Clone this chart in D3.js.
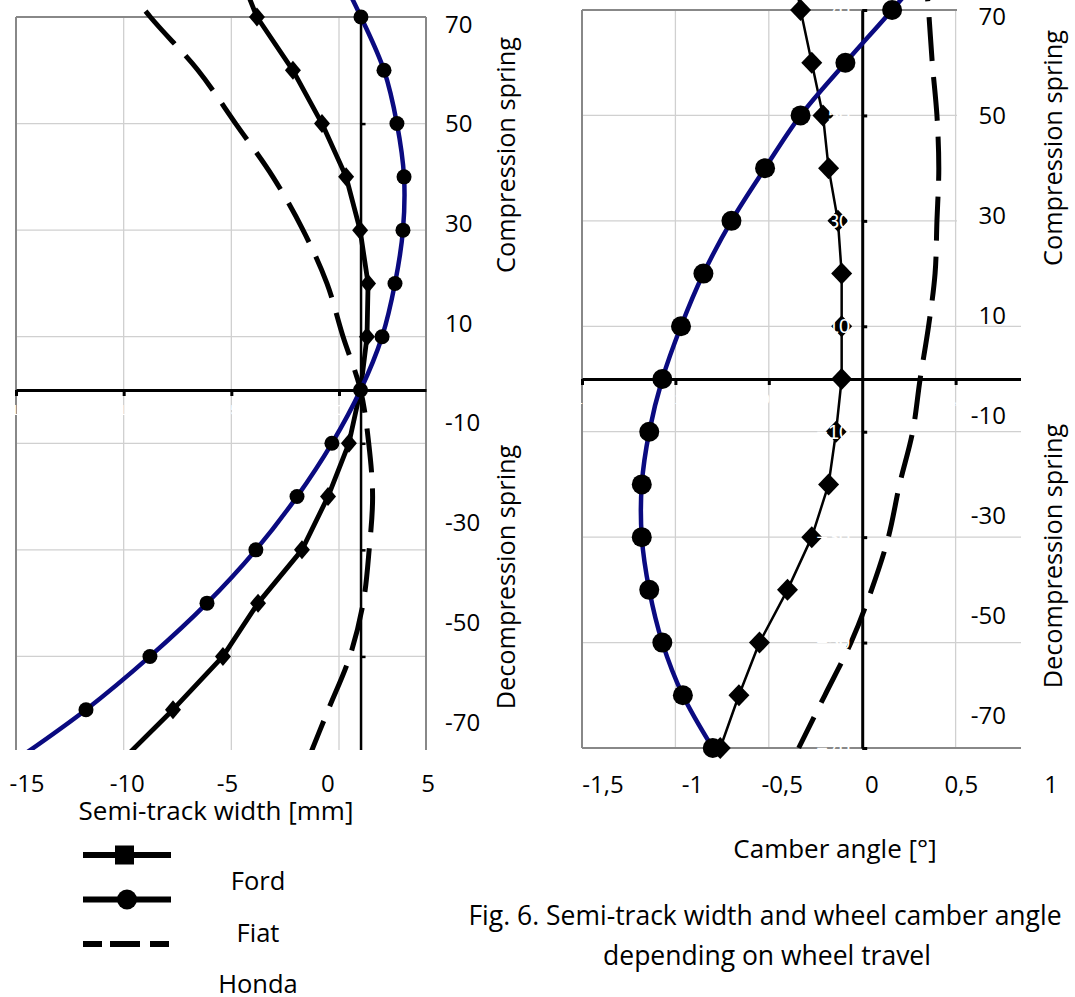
<!DOCTYPE html>
<html lang="en">
<head>
<meta charset="UTF-8">
<title>Semi-track width and camber angle</title>
<script src="https://cdn.jsdelivr.net/npm/d3@7"></script>
<style>
  body { margin: 0; background: #fff; }
  svg { font-family: "Open Sans", sans-serif; }
</style>
</head>
<body>
<svg id="chart" width="1075" height="997"></svg>
<script>
    // wheel travel [mm], one entry per measured point
    var travel = [80, 70, 60, 50, 40, 30, 20, 10, 0, -10, -20, -30, -40, -50, -60, -70];

    // semi-track width change [mm]
    var fordTrack  = [-4.8, -3.81, -2.14, -0.79, 0.33, 0.98, 1.35, 1.30, 1.0, 0.46, -0.51, -1.72, -3.76, -5.39, -7.71, -10.2];
    var fiatTrack  = [-0.2, 1.02, 2.09, 2.69, 3.02, 2.97, 2.60, 2.0, 1.0, -0.33, -1.95, -3.86, -6.13, -8.78, -11.75, -15.2];
    var hondaTrack = [-10.7, -8.76, -6.55, -4.8, -3.07, -1.67, -0.56, 0.19, 1.0, 1.38, 1.56, 1.4, 1.12, 0.5, -0.5, -1.5];

    // camber angle [deg]
    var fordCamber  = [-0.38, -0.33, -0.27, -0.21, -0.18, -0.13, -0.11, -0.11, -0.11, -0.14, -0.18, -0.27, -0.40, -0.55, -0.66, -0.76];
    var fiatCamber  = [0.40, 0.16, -0.09, -0.33, -0.52, -0.70, -0.85, -0.97, -1.07, -1.14, -1.18, -1.18, -1.14, -1.07, -0.96, -0.80];
    var hondaCamber = [0.33, 0.355, 0.375, 0.40, 0.41, 0.40, 0.39, 0.355, 0.31, 0.27, 0.20, 0.14, 0.05, -0.06, -0.20, -0.34];

    var travelTicks = [70, 50, 30, 10, -10, -30, -50, -70];
    var trackTicks = [-15, -10, -5, 0];
    var trackLabels = [-15, -10, -5, 0, 5];
    var camberTicks = [-1.5, -1, -0.5, 0.5];
    var camberLabels = [-1.5, -1, -0.5, 0, 0.5, 1];
    var legendNames = ["Ford", "Fiat", "Honda"];

    var svg = d3.select("#chart");
    var BLUE = "#0a0a80";
    var GRID = "#d0d0d0";
    var FRAME = "#888";

    function rows(vals) {
        return travel.map(function (t, i) { return {t: t, v: vals[i]}; });
    }

    function diamond(w, h) {
        return "M0," + (-h) + "L" + w + ",0L0," + h + "L" + (-w) + ",0Z";
    }

    function comma(d) { return String(d).replace(".", ","); }

    /* one panel: frame, grid, axes, three series */
    function panel(p) {
        var x = p.x, y = p.y;
        var xl = x.range()[0], xr = x.range()[1];
        var yt = y.range()[1], yb = y.range()[0];

        svg.append("defs").append("clipPath").attr("id", p.id)
            .append("rect").attr("x", p.clip[0]).attr("y", p.clip[1])
            .attr("width", p.clip[2]).attr("height", p.clip[3]);

        var g = svg.append("g").attr("clip-path", "url(#" + p.id + ")");

        // gridlines
        g.selectAll(".gx").data(p.gridX).enter().append("line")
            .attr("x1", function (d) { return x(d); }).attr("x2", function (d) { return x(d); })
            .attr("y1", yt).attr("y2", yb)
            .style("stroke", GRID).style("stroke-width", 1.3);
        g.selectAll(".gy").data(travelTicks).enter().append("line")
            .attr("x1", xl).attr("x2", xr)
            .attr("y1", function (d) { return y(d); }).attr("y2", function (d) { return y(d); })
            .style("stroke", GRID).style("stroke-width", 1.3);

        // frame
        var fr = [[xl, yt, xr, yt], [xl, yt, xl, yb], [xl, yb, xr, yb]];
        if (p.rightFrame) fr.push([xr, yt, xr, yb]);
        g.selectAll(".fr").data(fr).enter().append("line")
            .attr("x1", function (d) { return d[0]; }).attr("y1", function (d) { return d[1]; })
            .attr("x2", function (d) { return d[2]; }).attr("y2", function (d) { return d[3]; })
            .style("stroke", FRAME).style("stroke-width", 2);

        // axes
        var ax = g.append("g").attr("transform", "translate(0," + y(0) + ")")
            .call(d3.axisBottom(x).tickValues(p.tickX).tickSize(6).tickSizeOuter(0).tickFormat(""));
        ax.selectAll("path,line").style("stroke", "#000").style("stroke-width", 3);

        var ay = g.append("g").attr("transform", "translate(" + x(p.axisAt) + ",0)")
            .call(d3.axisRight(y).tickValues(travelTicks).tickSize(5).tickSizeOuter(0).tickFormat(""));
        ay.selectAll("path,line").style("stroke", "#000").style("stroke-width", p.vAxisW);

        // excel's own labels were set in white; they only show over the lines
        var wx = g.append("g").attr("transform", "translate(0," + y(0) + ")")
            .call(d3.axisBottom(x).tickValues(p.tickX).tickSize(0).tickPadding(14).tickFormat(p.fmt));
        wx.select(".domain").remove();
        wx.selectAll("text").style("fill", "#fff").style("font-size", "15px");

        // series
        var line = d3.line()
            .x(function (d) { return x(d.v); })
            .y(function (d) { return y(d.t); });

        var s = g.append("g");
        s.append("path").datum(rows(p.ford))
            .attr("d", line.curve(d3.curveLinear))
            .style("fill", "none").style("stroke", "#000").style("stroke-width", p.fordW)
            .style("stroke-linejoin", "round");
        s.selectAll(".dm").data(rows(p.ford)).enter().append("path")
            .attr("transform", function (d) { return "translate(" + x(d.v) + "," + y(d.t) + ")"; })
            .attr("d", diamond(p.dm[0], p.dm[1]))
            .style("fill", "#000");

        s.append("path").datum(rows(p.fiat))
            .attr("d", line.curve(d3.curveCatmullRom))
            .style("fill", "none").style("stroke", BLUE).style("stroke-width", 4.5);
        s.selectAll(".ci").data(rows(p.fiat)).enter().append("circle")
            .attr("cx", function (d) { return x(d.v); })
            .attr("cy", function (d) { return y(d.t); })
            .attr("r", p.r)
            .style("fill", "#000");

        s.append("path").datum(rows(p.honda))
            .attr("d", line.curve(d3.curveCatmullRom))
            .style("fill", "none").style("stroke", "#000").style("stroke-width", 5)
            .style("stroke-dasharray", "44,16");

        return g;
    }

    // ---- left: semi-track width ----
    var xL = d3.scaleLinear().domain([-15, 4.04]).range([16, 426]);
    var yL = d3.scaleLinear().domain([-70, 70]).range([763, 17]);
    panel({
        id: "clipL", x: xL, y: yL, clip: [0, 0, 440, 750],
        gridX: trackTicks, tickX: trackTicks, axisAt: 1, rightFrame: true,
        vAxisW: 2.5, fordW: 4.8, dm: [8, 9.5], r: 7.5,
        fmt: function (d) { return d; },
        ford: fordTrack, fiat: fiatTrack, honda: hondaTrack
    });

    // ---- right: camber angle ----
    var xR = d3.scaleLinear().domain([-1.5, 0.85]).range([582, 1021]);
    var yR = d3.scaleLinear().domain([-70, 70]).range([748, 10]);
    var gR = panel({
        id: "clipR", x: xR, y: yR, clip: [570, 0, 451, 997],
        gridX: [-1, -0.5, 0.5], tickX: camberTicks, axisAt: 0, rightFrame: false,
        vAxisW: 3, fordW: 2.5, dm: [10.5, 11], r: 10,
        fmt: comma,
        ford: fordCamber, fiat: fiatCamber, honda: hondaCamber
    });
    var wy = gR.append("g").attr("transform", "translate(" + xR(0) + ",0)")
        .call(d3.axisLeft(yR).tickValues(travelTicks).tickSize(0).tickPadding(12));
    wy.select(".domain").remove();
    wy.selectAll("text").style("fill", "#fff").style("font-size", "20px");

    // white text box behind the upper camber labels
    svg.append("rect").attr("x", 957).attr("y", 0).attr("width", 70).attr("height", 318)
        .style("fill", "#fff");

    // ---- hand-placed labels (text boxes in the original) ----
    var T = svg.append("g").style("font-size", "24px").style("fill", "#000");

    var lxL = d3.scaleLinear().domain([-15, 5]).range([27, 428]);
    T.selectAll(".lx").data(trackLabels).enter().append("text")
        .attr("x", function (d) { return lxL(d); }).attr("y", 792)
        .attr("text-anchor", "middle").text(function (d) { return d; });

    var lxR = d3.scaleLinear().domain([-1.5, 1]).range([603, 1051]);
    T.selectAll(".rx").data(camberLabels).enter().append("text")
        .attr("x", function (d) { return lxR(d); }).attr("y", 793)
        .attr("text-anchor", "middle").text(comma);

    var lyL = d3.scaleLinear().domain([70, -70]).range([24, 722]);
    T.selectAll(".ly").data(travelTicks).enter().append("text")
        .attr("x", 445).attr("y", function (d) { return lyL(d) + 8.5; })
        .text(function (d) { return d; });

    var lyR = d3.scaleLinear().domain([70, -70]).range([16, 715]);
    T.selectAll(".ry").data(travelTicks).enter().append("text")
        .attr("x", 1006).attr("y", function (d) { return lyR(d) + 8.5; })
        .attr("text-anchor", "end").text(function (d) { return d; });

    function vtext(x, y, s) {
        T.append("text").attr("transform", "translate(" + x + "," + y + ") rotate(-90)")
            .attr("text-anchor", "middle").style("font-size", "25.3px").text(s);
    }
    vtext(515, 155, "Compression spring");
    vtext(515, 577, "Decompression spring");
    vtext(1062, 148, "Compression spring");
    vtext(1062, 556, "Decompression spring");

    function htext(x, y, s, size) {
        T.append("text").attr("x", x).attr("y", y).attr("text-anchor", "middle")
            .style("font-size", size).text(s);
    }
    htext(216, 820, "Semi-track width [mm]", "26px");
    htext(835, 858, "Camber angle [°]", "26px");
    htext(765, 925, "Fig. 6. Semi-track width and wheel camber angle", "26.5px");
    htext(767, 965, "depending on wheel travel", "26.5px");

    // ---- legend ----
    var lg = svg.append("g");
    var legY = d3.scalePoint().domain(legendNames).range([855, 944]);
    lg.selectAll(".ll").data(legendNames).enter().append("line")
        .attr("x1", 83).attr("x2", 171)
        .attr("y1", function (d) { return legY(d); }).attr("y2", function (d) { return legY(d); })
        .style("stroke", "#000").style("stroke-width", 6)
        .style("stroke-dasharray", function (d) { return d === "Honda" ? "19,8,30,10" : null; });
    lg.append("rect").attr("x", 115).attr("y", legY("Ford") - 9.5).attr("width", 19).attr("height", 19)
        .style("fill", "#000");
    lg.append("circle").attr("cx", 127).attr("cy", legY("Fiat")).attr("r", 10)
        .style("fill", "#000");
    T.selectAll(".lt").data(legendNames).enter().append("text")
        .attr("x", 258)
        .attr("y", function (d, i) { return 890 + i * 51.5; })
        .attr("text-anchor", "middle").style("font-size", "25.5px").text(function (d) { return d; });
</script>
</body>
</html>
